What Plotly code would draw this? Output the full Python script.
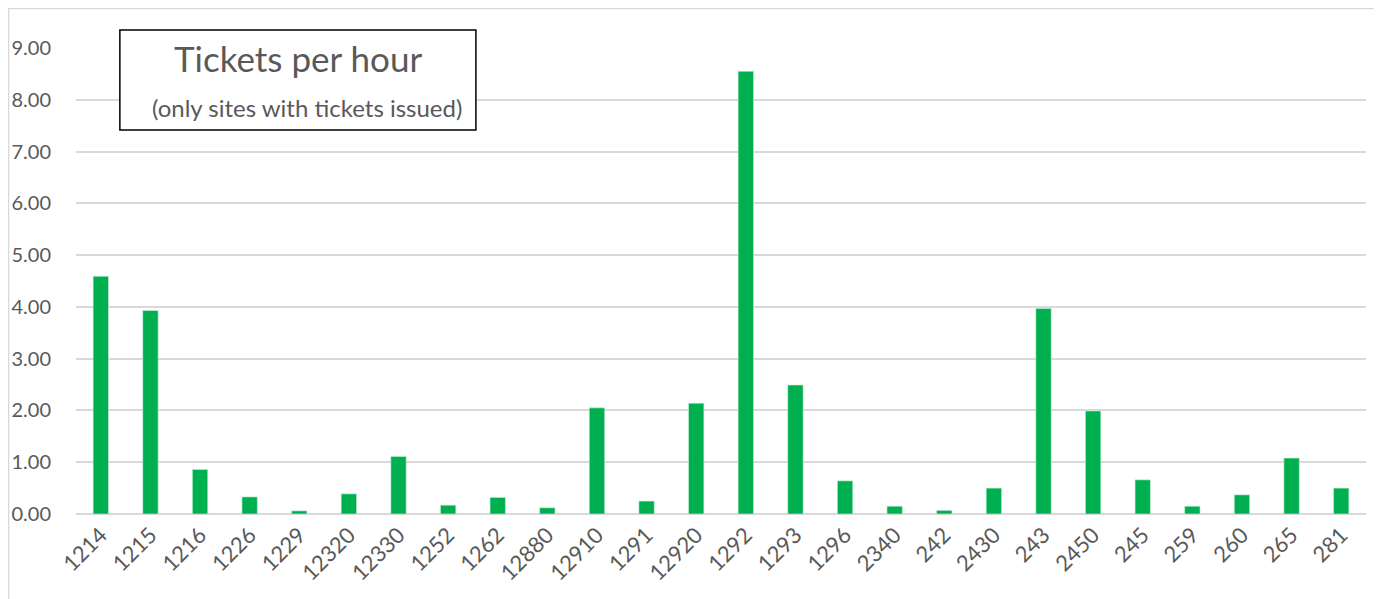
import plotly.graph_objects as go

# sites and tickets per hour
sites = ['1214', '1215', '1216', '1226', '1229', '12320', '12330', '1252', '1262',
         '12880', '12910', '1291', '12920', '1292', '1293', '1296', '2340', '242',
         '2430', '243', '2450', '245', '259', '260', '265', '281']
tickets_per_hour = [4.59, 3.93, 0.86, 0.33, 0.06, 0.39, 1.11, 0.17, 0.32,
                    0.12, 2.05, 0.25, 2.14, 8.55, 2.49, 0.64, 0.15, 0.07,
                    0.50, 3.97, 1.99, 0.66, 0.15, 0.37, 1.08, 0.50]
y_ticks = [0, 1, 2, 3, 4, 5, 6, 7, 8, 9]

grey = '#595959'
grid = '#d9d9d9'
font_name = 'Lato, Open Sans, sans-serif'

fig = go.Figure()
fig.add_trace(go.Bar(x=sites, y=tickets_per_hour,
                     marker=dict(color='#00b050', line=dict(color='#c8f0d8', width=0.6)),
                     name='Tickets per hour'))

# page body has an 8px margin, so the plot box is offset to compensate
fig.update_layout(
    width=1382, height=599,
    margin=dict(l=68, r=24, t=40, b=93),
    paper_bgcolor='white', plot_bgcolor='white',
    showlegend=False,
    bargap=0.69,
    font=dict(family=font_name, color=grey, size=18),
)
fig.update_xaxes(type='category', tickangle=-45, showgrid=False, ticks='',
                 tickfont=dict(size=22, color=grey), showline=False,
                 automargin=False, ticklabelstandoff=3)
fig.update_yaxes(range=[0, 9], tickvals=y_ticks,
                 ticktext=[f'{v:.2f}' for v in y_ticks],
                 showgrid=True, gridcolor=grid, gridwidth=1.5,
                 zeroline=True, zerolinecolor=grid, zerolinewidth=1.5,
                 tickfont=dict(size=20, color=grey), ticks='',
                 ticklabelstandoff=24, automargin=False)

# outer chart border
fig.add_shape(type='rect', xref='paper', yref='paper',
              x0=-0.0523, x1=1.0078, y0=-0.2, y1=1.0848,
              line=dict(color=grid, width=1.5), fillcolor='rgba(0,0,0,0)', layer='below')

# title box
fig.add_shape(type='rect', xref='paper', yref='paper',
              x0=0.034, x1=0.310, y0=0.824, y1=1.0386,
              line=dict(color='black', width=1.5), fillcolor='white', layer='above')
fig.add_annotation(text='Tickets per hour', xref='paper', yref='paper',
                   x=0.172, y=0.9785, showarrow=False, xanchor='center', yanchor='middle',
                   font=dict(size=35, color=grey, family=font_name))
fig.add_annotation(text='(only sites with tickets issued)', xref='paper', yref='paper',
                   x=0.179, y=0.873, showarrow=False, xanchor='center', yanchor='middle',
                   font=dict(size=24, color=grey, family=font_name))

fig.write_html('out.html')
